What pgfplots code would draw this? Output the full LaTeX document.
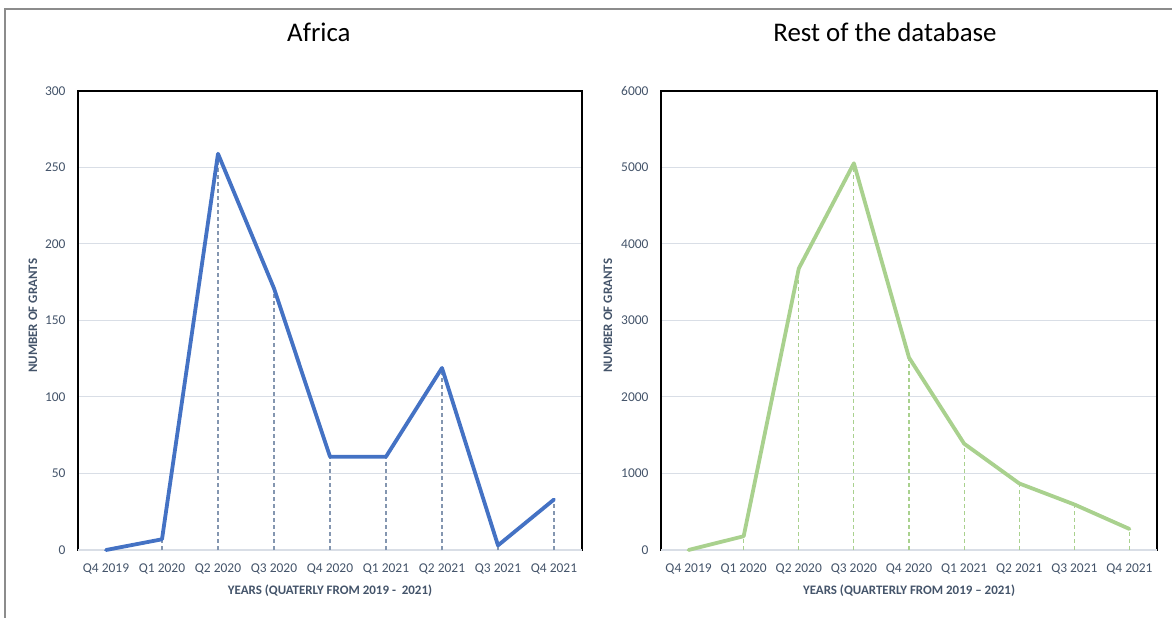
\documentclass[border=0pt]{standalone}
\usepackage{fontspec}
\setmainfont{Carlito}
\usepackage{pgfplots}
\usepackage{pgfplotstable}
\pgfplotsset{compat=1.18}

\definecolor{africablue}{HTML}{4472C4}
\definecolor{restgreen}{HTML}{A9D18E}
\definecolor{dropblue}{HTML}{8496B0}
\definecolor{gridgray}{HTML}{D9DEE6}
\definecolor{labelslate}{HTML}{44546A}
\definecolor{framegray}{HTML}{8C8C8C}

% quarterly number of grants: Africa and the rest of the database
\pgfplotstableread{
q  africa  rest
0  0       0
1  7       180
2  259     3680
3  171     5055
4  61      2515
5  61      1390
6  119     870
7  3       595
8  33      275
}\grants

\pgfplotsset{
  quarterly/.style={
    scale only axis,
    height=459bp,
    anchor=south west,
    clip=false,
    xmin=-0.5, xmax=8.5,
    xtick={0,...,8},
    xticklabels={Q4 2019,Q1 2020,Q2 2020,Q3 2020,Q4 2020,Q1 2021,Q2 2021,Q3 2021,Q4 2021},
    ymin=0,
    ymajorgrids,
    major grid style={gridgray, line width=1bp},
    tick style={draw=none},
    axis line style={black, line width=1.3bp},
    tick label style={font=\fontsize{13.5}{16}\selectfont, text=labelslate},
    /pgf/number format/assume math mode=true,
    /pgf/number format/1000 sep={},
    xticklabel style={anchor=base, yshift=-22.5bp},
    yticklabel style={anchor=east, xshift=-9bp},
    label style={font=\bfseries\fontsize{13}{15}\selectfont, text=labelslate},
    xlabel style={at={(axis description cs:0.5,0)}, anchor=base, yshift=-44bp},
    every axis title shift=0pt,
    title style={font=\fontsize{27}{32}\selectfont, text=black, anchor=base, yshift=49bp},
  },
  grantline/.style={line width=3.8bp, line join=round, line cap=round, no marks},
  dropline/.style={ycomb, no marks, line width=1.1bp, dash pattern=on 4bp off 3bp},
}

\begin{document}
\begin{tikzpicture}
\useasboundingbox (0,0) rectangle (1172bp,618bp);
\draw[framegray, line width=2bp] (5bp,0) -- (5bp,609bp) -- (1172bp,609bp);

\begin{axis}[
  quarterly,
  at={(78bp,68bp)},
  width=504bp,
  ymax=300,
  ytick={0,50,...,300},
  title={Africa},
  title style={at={(axis description cs:0.478,1)}},
  xlabel={YEARS (QUATERLY FROM 2019 -\ \ 2021)},
  ylabel={NUMBER OF GRANTS},
  ylabel style={at={(axis description cs:-0.0893,0.51)}, anchor=center},
]
\draw[gridgray, line width=1.3bp] (rel axis cs:0,0) -- (rel axis cs:1,0);
\addplot[dropline, dropblue] table[x=q, y=africa] {\grants};
\addplot[grantline, africablue] table[x=q, y=africa] {\grants};
\end{axis}

\begin{axis}[
  quarterly,
  at={(661bp,68bp)},
  width=496bp,
  ymax=6000,
  ytick={0,1000,...,6000},
  title={Rest of the database},
  title style={at={(axis description cs:0.4516,1)}},
  xlabel={YEARS (QUARTERLY FROM 2019 – 2021)},
  ylabel={NUMBER OF GRANTS},
  ylabel style={at={(axis description cs:-0.1069,0.51)}, anchor=center},
]
\draw[gridgray, line width=1.3bp] (rel axis cs:0,0) -- (rel axis cs:1,0);
\addplot[dropline, restgreen] table[x=q, y=rest] {\grants};
\addplot[grantline, restgreen] table[x=q, y=rest] {\grants};
\end{axis}
\end{tikzpicture}
\end{document}
